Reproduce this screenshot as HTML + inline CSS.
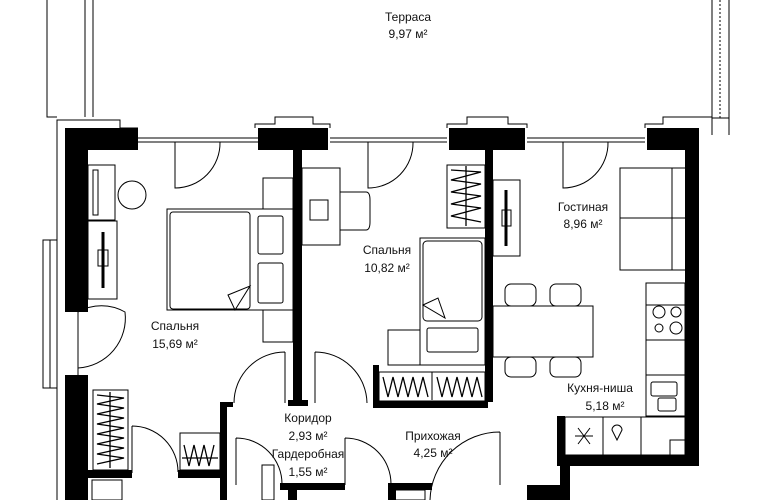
<!DOCTYPE html>
<html><head><meta charset="utf-8"><style>
html,body{margin:0;padding:0;background:#fff;}
svg{display:block}
text{font-family:"Liberation Sans",sans-serif;font-size:12px;fill:#111;text-anchor:middle}
</style></head><body>
<svg width="770" height="500" viewBox="0 0 770 500" xmlns="http://www.w3.org/2000/svg">
<g fill="none" stroke="#000" stroke-width="1">
<polyline points="47,0 47,117 57,117"/>
<line x1="85" y1="0" x2="85" y2="117"/>
<line x1="93" y1="0" x2="93" y2="117"/>
<line x1="712" y1="0" x2="712" y2="135"/>
<line x1="729" y1="0" x2="729" y2="135"/>
<line x1="720" y1="0" x2="720" y2="118" stroke-dasharray="2,2"/>
<line x1="712" y1="118" x2="729" y2="118"/>
<polyline points="57,500 57,120 120,120 120,128 138,128"/>
<line x1="138" y1="138" x2="258" y2="138"/><line x1="138" y1="142" x2="258" y2="142"/>
<line x1="330" y1="138" x2="447" y2="138"/><line x1="330" y1="142" x2="447" y2="142"/>
<line x1="527" y1="138" x2="645" y2="138"/><line x1="527" y1="142" x2="645" y2="142"/>
<polyline points="255,128 255,124 275,124 275,117 313,117 313,124 330,124 330,128"/>
<polyline points="447,128 447,124 467,124 467,117 508,117 508,124 527,124 527,128"/>
<polyline points="645,128 645,124 663,124 663,117 712,117"/>
<rect x="43" y="240" width="14" height="148"/>
<line x1="50" y1="240" x2="50" y2="388"/>
<line x1="78" y1="312" x2="78" y2="375"/>
</g>
<g fill="#000">
<rect x="65" y="128" width="73" height="22"/>
<rect x="65" y="128" width="23" height="184"/>
<rect x="65" y="375" width="23" height="125"/>
<rect x="258" y="128" width="70" height="22"/>
<rect x="293" y="150" width="9" height="255"/>
<rect x="288" y="400" width="20" height="6"/>
<rect x="449" y="128" width="76" height="22"/>
<rect x="485" y="150" width="8" height="252"/>
<rect x="647" y="128" width="50" height="22"/>
<rect x="685" y="128" width="14" height="338"/>
<rect x="557" y="416" width="8" height="50"/>
<rect x="557" y="455" width="142" height="11"/>
<rect x="560" y="455" width="10" height="45"/>
<rect x="527" y="485" width="43" height="15"/>
<rect x="373" y="365" width="6" height="43"/>
<rect x="373" y="401" width="115" height="7"/>
<rect x="220" y="403" width="7" height="97"/>
<rect x="220" y="402" width="13" height="5"/>
<rect x="88" y="470" width="44" height="8"/>
<rect x="178" y="470" width="45" height="8"/>
<rect x="280" y="483" width="65" height="7"/>
<rect x="288" y="483" width="9" height="17"/>
<rect x="390" y="483" width="42" height="7"/>
<rect x="388" y="483" width="8" height="17"/>
</g>
<g fill="none" stroke="#000" stroke-width="1">
<path d="M175,142 V188 A45,45 0 0 0 220,142"/>
<path d="M368,142 V188 A45,45 0 0 0 413,142"/>
<path d="M563,142 V188 A45,45 0 0 0 608,142"/>
<path d="M78,312 A47,47 0 0 1 125,312 A50,50 0 0 1 78,368"/>
<path d="M285,352 V403 M285,352 A51,51 0 0 0 234,403"/>
<path d="M315,352 V403 M315,352 A52,52 0 0 1 367,403"/>
<path d="M132,426 V473 M132,426 A46,46 0 0 1 178,472"/>
<path d="M236,438 V485 M236,438 A46,46 0 0 1 282,484"/>
<path d="M345,438 V485 M345,438 A46,46 0 0 1 391,484"/>
<path d="M500,432 A70,70 0 0 0 430,500 M500,432 V485"/>
<rect x="88" y="165" width="27" height="55"/>
<rect x="93" y="170" width="5" height="45"/>
<rect x="88" y="221" width="29" height="78"/>
<line x1="103" y1="232" x2="103" y2="288" stroke-width="3"/>
<rect x="98" y="250" width="10" height="16"/>
<circle cx="132" cy="195" r="14"/>
<rect x="167" y="209" width="126" height="101"/>
<rect x="170" y="212" width="80" height="97" rx="3"/>
<polygon points="228,295 250,286 235,310"/>
<rect x="258" y="216" width="25" height="38" rx="2"/>
<rect x="258" y="263" width="25" height="40" rx="2"/>
<rect x="263" y="178" width="30" height="31"/>
<rect x="263" y="310" width="30" height="32"/>
<rect x="302" y="168" width="38" height="77"/>
<rect x="310" y="200" width="18" height="20"/>
<path d="M340,192 H366 Q370,192 370,200 V222 Q370,230 366,230 H340"/>
<rect x="447" y="165" width="38" height="63"/>
<path d="M451,170 L481,172 L451,180 L481,184 L451,192 L481,196 L451,204 L481,208 L451,216 L481,222 M466,166 V226" stroke-width="1.3"/>
<rect x="420" y="238" width="65" height="127"/>
<rect x="423" y="241" width="59" height="80" rx="4"/>
<rect x="427" y="328" width="51" height="24" rx="2"/>
<polygon points="423,305 438,298 445,318"/>
<rect x="388" y="330" width="32" height="35"/>
<rect x="379" y="372" width="106" height="29"/>
<line x1="432" y1="372" x2="432" y2="400"/>
<path d="M383,377 L388,397 L393,377 L398,397 L403,377 L408,397 L413,377 L418,397 L423,377 L428,397 M437,377 L442,397 L447,377 L452,397 L457,377 L462,397 L467,377 L472,397 L477,377 L482,397" stroke-width="1.3"/>
<rect x="493" y="180" width="27" height="76"/>
<line x1="506" y1="190" x2="506" y2="246" stroke-width="3"/>
<rect x="502" y="210" width="9" height="16"/>
<rect x="620" y="168" width="66" height="102"/>
<line x1="620" y1="218" x2="686" y2="218"/>
<line x1="672" y1="168" x2="672" y2="270"/>
<rect x="493" y="306" width="100" height="51"/>
<rect x="505" y="284" width="31" height="22" rx="6"/>
<rect x="550" y="284" width="31" height="22" rx="6"/>
<rect x="505" y="357" width="31" height="20" rx="6"/>
<rect x="550" y="357" width="31" height="20" rx="6"/>
<rect x="646" y="283" width="39" height="133"/>
<line x1="646" y1="305" x2="685" y2="305"/>
<line x1="646" y1="340" x2="685" y2="340"/>
<line x1="646" y1="375" x2="685" y2="375"/>
<circle cx="659" cy="312" r="6"/><circle cx="676" cy="312" r="5"/>
<circle cx="659" cy="328" r="4"/><circle cx="676" cy="328" r="6"/>
<rect x="651" y="382" width="26" height="14" rx="2"/>
<rect x="658" y="398" width="18" height="13" rx="2"/>
<rect x="565" y="417" width="120" height="38"/>
<line x1="603" y1="417" x2="603" y2="455"/>
<line x1="641" y1="417" x2="641" y2="455"/>
<path d="M575,436 H593 M578,428 L590,444 M590,428 L578,444"/>
<path d="M617,440 L612,430 A5,5 0 1 1 622,430 Z"/>
<rect x="670" y="440" width="15" height="15"/>
<rect x="93" y="390" width="35" height="80"/>
<path d="M97,395 L124,398 L97,404 L124,408 L97,414 L124,418 L97,424 L124,428 L97,434 L124,438 L97,444 L124,448 L97,454 L124,458 L97,464 M110,392 V468" stroke-width="1.3"/>
<rect x="180" y="433" width="40" height="37"/>
<path d="M184,445 L189,466 L194,445 L199,466 L204,445 L209,466 L214,445 M182,458 H218" stroke-width="1.3"/>
<rect x="92" y="480" width="30" height="20"/>
<rect x="262" y="465" width="12" height="35"/>
<rect x="395" y="490" width="30" height="10"/>
</g>
<text x="408" y="21">Терраса</text>
<text x="408" y="38">9,97 м²</text>
<text x="175" y="330">Спальня</text>
<text x="175" y="348">15,69 м²</text>
<text x="387" y="254">Спальня</text>
<text x="387" y="272">10,82 м²</text>
<text x="583" y="211">Гостиная</text>
<text x="583" y="228">8,96 м²</text>
<text x="600" y="392">Кухня-ниша</text>
<text x="605" y="410">5,18 м²</text>
<text x="308" y="422">Коридор</text>
<text x="308" y="440">2,93 м²</text>
<text x="308" y="458">Гардеробная</text>
<text x="308" y="476">1,55 м²</text>
<text x="433" y="440">Прихожая</text>
<text x="433" y="457">4,25 м²</text>
</svg>
</body></html>
